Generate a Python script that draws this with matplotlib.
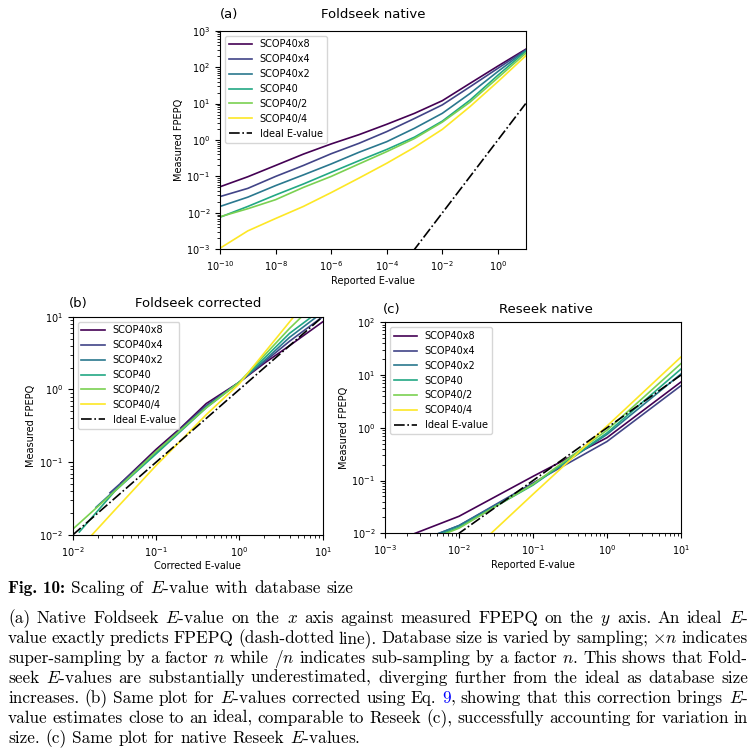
import numpy as np
import matplotlib
matplotlib.use('Agg')
import matplotlib.pyplot as plt

W, H = 755, 753

series = ['SCOP40x8', 'SCOP40x4', 'SCOP40x2', 'SCOP40', 'SCOP40/2', 'SCOP40/4']
colors = [plt.cm.viridis(v) for v in np.linspace(0, 1, 6)]

# (a) Foldseek native: reported E-value vs measured FPEPQ
a_evalue = [1e-10, 1e-9, 1e-8, 1e-7, 1e-6, 1e-5, 1e-4, 1e-3, 1e-2, 1e-1, 1e0, 1e1]
a_x8 = [0.052, 0.098, 0.2, 0.41, 0.78, 1.4, 2.7, 5.4, 12, 36, 107, 309]
a_x4 = [0.028, 0.047, 0.1, 0.2, 0.42, 0.81, 1.7, 3.9, 9.2, 29, 93, 295]
a_x2 = [0.015, 0.027, 0.056, 0.11, 0.22, 0.46, 0.9, 2.1, 5.4, 19, 76, 284]
a_x1 = [0.0076, 0.015, 0.031, 0.062, 0.13, 0.27, 0.55, 1.2, 3.3, 12.5, 60, 270]
a_d2 = [0.0078, 0.013, 0.023, 0.05, 0.1, 0.22, 0.48, 1.1, 3.1, 11, 51, 240]
a_d4 = [0.00107, 0.0032, 0.007, 0.015, 0.036, 0.09, 0.23, 0.63, 1.96, 8.3, 40, 204]

# (b) Foldseek corrected E-values
b_x8_e = [0.038, 0.1, 0.2, 0.4, 1.0, 2.0, 4.0, 10.0]
b_x8_f = [0.052, 0.15, 0.3, 0.64, 1.26, 2.3, 4.0, 8.5]
b_x4_e = [0.028, 0.1, 0.2, 0.4, 1.0, 2.0, 4.0, 10.0]
b_x4_f = [0.038, 0.14, 0.29, 0.6, 1.26, 2.4, 4.6, 10.0]
b_x2_e = [0.019, 0.1, 0.2, 0.4, 1.0, 2.0, 4.0, 8.5]
b_x2_f = [0.024, 0.135, 0.28, 0.58, 1.26, 2.5, 5.2, 10.0]
b_x1_e = [0.012, 0.032, 0.1, 0.2, 0.4, 1.0, 2.0, 4.0, 7.4]
b_x1_f = [0.011, 0.04, 0.13, 0.27, 0.56, 1.26, 2.7, 5.9, 10.0]
b_d2_e = [0.01, 0.032, 0.1, 0.2, 0.4, 1.0, 2.0, 4.0, 5.6]
b_d2_f = [0.012, 0.04, 0.14, 0.28, 0.56, 1.26, 2.95, 6.9, 10.0]
b_d4_e = [0.017, 0.032, 0.1, 0.2, 0.4, 1.0, 2.0, 4.5]
b_d4_f = [0.01, 0.022, 0.09, 0.2, 0.45, 1.2, 3.2, 10.0]
b_ideal = [0.01, 10.0]

# (c) Reseek native
c_evalue = [1e-3, 1e-2, 1e-1, 1e0, 1e1]
c_x8 = [0.006, 0.021, 0.12, 0.65, 7.4]
c_x4 = [0.004, 0.014, 0.09, 0.55, 6.3]
c_x2 = [0.004, 0.014, 0.085, 0.75, 10.5]
c_x1 = [0.0038, 0.013, 0.082, 0.8, 13]
c_d2 = [0.0035, 0.0125, 0.085, 0.9, 16.5]
c_d4 = [0.00014, 0.0027, 0.055, 1.08, 22]

FS = 7


def panel(ax, xs, ys, ideal, xlim, ylim, xlabel, title, title_x, tag, tag_x, dy):
    for x, y, name, c in zip(xs, ys, series, colors):
        ax.plot(x, y, color=c, lw=1.2, label=name)
    ax.plot(ideal, ideal, 'k-.', lw=1.2, label='Ideal E-value')
    ax.set_xscale('log')
    ax.set_yscale('log')
    ax.set_xlim(*xlim)
    ax.set_ylim(*ylim)
    ax.set_xlabel(xlabel, fontsize=FS, labelpad=2)
    ax.set_ylabel('Measured FPEPQ', fontsize=FS, labelpad=2)
    ax.tick_params(labelsize=FS)
    ax.legend(loc='upper left', fontsize=FS, handlelength=2.4)
    hpx = ax.get_position().height * H
    ax.text(title_x, 1 + dy / hpx, title, transform=ax.transAxes,
            ha='center', va='center', fontsize=9.5)
    ax.text(tag_x, 1 + dy / hpx, tag, transform=ax.transAxes,
            ha='left', va='center', fontsize=9.5)


fig = plt.figure(figsize=(W / 100, H / 100), dpi=100)

ax_a = fig.add_axes([220 / W, 1 - 249.3 / H, 305.7 / W, 218.6 / H])
panel(ax_a, [a_evalue] * 6, [a_x8, a_x4, a_x2, a_x1, a_d2, a_d4], a_evalue,
      (1e-10, 1e1), (1e-3, 1e3), 'Reported E-value', 'Foldseek native', 0.5,
      '(a)', 0.0, 16)

ax_b = fig.add_axes([72.7 / W, 1 - 535 / H, 250 / W, 218.3 / H])
panel(ax_b, [b_x8_e, b_x4_e, b_x2_e, b_x1_e, b_d2_e, b_d4_e],
      [b_x8_f, b_x4_f, b_x2_f, b_x1_f, b_d2_f, b_d4_f], b_ideal,
      (1e-2, 1e1), (1e-2, 1e1), 'Corrected E-value', 'Foldseek corrected', 0.5,
      '(b)', -0.015, 13)

ax_c = fig.add_axes([385 / W, 1 - 533.3 / H, 296 / W, 211 / H])
panel(ax_c, [c_evalue] * 6, [c_x8, c_x4, c_x2, c_x1, c_d2, c_d4], c_evalue,
      (1e-3, 1e1), (1e-2, 1e2), 'Reported E-value', 'Reseek native', 0.544,
      '(c)', -0.007, 13)

# caption, set line by line and justified like the LaTeX original
CAP_FS = 12.4
SPACE = CAP_FS * 100 / 72 * 0.333
renderer = fig.canvas.get_renderer()


def text_w(t):
    return t.get_window_extent(renderer).width


def place_line(y_px, words, justify, x0=8.0, x1=748.0, font='cmr10'):
    placed = []
    widths = []
    for w in words:
        bits = w.split('@')
        parts = []
        for i, b in enumerate(bits):
            if not b:
                continue
            t = fig.text(0, 1 - y_px / H, b, fontsize=CAP_FS, family=font,
                         color='blue' if i % 2 else 'black', va='baseline',
                         math_fontfamily='cm')
            parts.append((t, text_w(t)))
        placed.append(parts)
        widths.append(sum(p[1] for p in parts))
    if justify and len(words) > 1:
        gap = (x1 - x0 - sum(widths)) / (len(words) - 1)
    else:
        gap = SPACE
    x = x0
    for parts, wt in zip(placed, widths):
        xx = x
        for t, wpx in parts:
            t.set_x(xx / W)
            xx += wpx
        x += wt + gap
    return x


head = fig.text(8 / W, 1 - 593 / H, 'Fig. 10:', fontsize=CAP_FS, family='cmb10',
                va='baseline')
hx = 8 + text_w(head) + SPACE
place_line(593, r'Scaling of $E$-value with database size'.split(' '), False, x0=hx)

caption = [
    r'(a) Native Foldseek $E$-value on the $x$ axis against measured FPEPQ on the $y$ axis. An ideal $E$-',
    r'value exactly predicts FPEPQ (dash-dotted line). Database size is varied by sampling; $\times{n}$ indicates',
    r'super-sampling by a factor $n$ while $/n$ indicates sub-sampling by a factor $n$. This shows that Fold-',
    r'seek $E$-values are substantially underestimated, diverging further from the ideal as database size',
    r'increases. (b) Same plot for $E$-values corrected using Eq. @9@, showing that this correction brings $E$-',
    r'value estimates close to an ideal, comparable to Reseek (c), successfully accounting for variation in',
    r'size. (c) Same plot for native Reseek $E$-values.',
]
for i, line in enumerate(caption):
    place_line(623 + 20 * i, line.split(' '), i < len(caption) - 1)

fig.savefig('out.png', dpi=100)
